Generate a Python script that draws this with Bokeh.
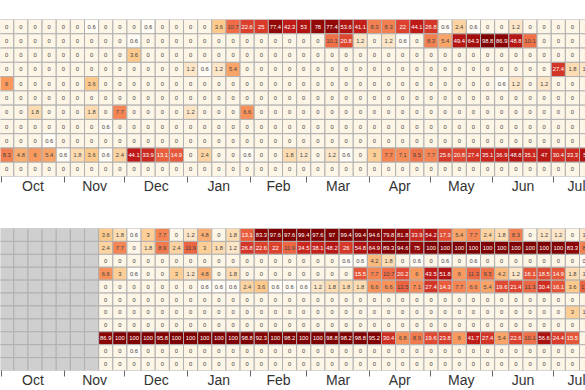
import numpy as np
from bokeh.plotting import figure
from bokeh.models import (ColumnDataSource, LogColorMapper, LinearColorMapper,
                          FixedTicker, DatetimeTickFormatter, Range1d)
from bokeh.layouts import column
from bokeh.transform import transform
from bokeh.core.properties import value
from bokeh.embed import file_html
from bokeh.resources import INLINE

# ---------------- data ----------------
first_week = "2018-09-30"          # start of the first weekly column
month_starts = ["2018-10-01", "2018-11-01", "2018-12-01", "2019-01-01", "2019-02-01",
                "2019-03-01", "2019-04-01", "2019-05-01", "2019-06-01", "2019-07-01",
                "2019-08-01"]
month_labels = ["Oct", "Nov", "Dec", "Jan", "Feb", "Mar", "Apr", "May", "Jun", "Jul"]

NA = float("nan")

top_rows = [
    [0, 0, 0, 0, 0, 0, 0.6, 0, 0, 0, 0.6, 0, 0, 0, 0, 3.6, 10.7, 22.6, 25, 77.4, 42.3, 53, 78, 77.4,
     53.6, 41.1, 8.3, 8.3, 22, 44.1, 26.8, 0.6, 2.4, 0.6, 0, 0, 1.2, 0, 0, 0, 0, 0],
    [0, 0, 0, 0, 0, 0, 0, 0, 0, 0.6, 0, 0, 0, 0, 0, 0, 0, 0, 0, 0, 0, 0, 0, 10.1, 20.8, 1.2, 0,
     1.2, 0.6, 0, 8.3, 5.4, 49.4, 64.3, 98.8, 86.9, 48.8, 10.1, 0, 0, 0, 0],
    [0, 0, 0, 0, 0, 0, 0, 0, 0, 3.6, 0, 0, 0, 0, 0, 0, 0, 0, 0, 0, 0, 0, 0, 0, 0, 0, 0, 0, 0, 0,
     0, 0, 0, 0, 0, 0, 0, 0, 0, 0, 0, 0],
    [0, 0, 0, 0, 0, 0, 0, 0, 0, 0, 0, 0, 0, 1.2, 0.6, 1.2, 5.4, 0, 0, 0, 0, 0, 0, 0, 0, 0, 0, 0,
     0, 0, 0, 0, 0, 0, 0, 0, 0, 0, 0, 27.4, 1.8, 1.2],
    [6, 0, 0, 0, 0, 0, 3.6, 0, 0, 0, 0, 0, 0, 0, 0, 0, 0, 0, 0, 0, 0, 0, 0, 0, 0, 0, 0, 0, 0, 0,
     0, 0, 0, 0, 0, 0.6, 1.2, 0, 1.2, 0, 0, 0],
    [0] * 42,
    [0, 0, 1.8, 0, 0, 0, 1.8, 0, 7.7, 0, 0, 0, 0, 1.2, 0, 0, 0, 6.6, 0, 0, 0, 0, 0, 0, 0, 0, 0, 0,
     0, 0, 0, 0, 0, 0, 0, 0, 0, 0, 0, 0, 0, 0],
    [0, 0, 0, 0, 0, 0, 0, 0.6, 0, 0, 0, 0, 0, 0, 0, 0, 0, 0, 0, 0, 0, 0, 0, 0, 0, 0, 0, 0, 0, 0,
     0, 0, 0, 0, 0, 0, 0, 0, 0, 0, 0, 0],
    [0, 0, 0, 0.6, 0, 0, 0, 0, 0, 0, 0, 0, 0, 0, 0, 0, 0, 0, 0, 0, 0, 0, 0, 0, 0, 0, 0, 0, 0, 0,
     0, 0, 0, 0, 0, 0, 0, 0, 0, 0, 0, 0],
    [8.3, 4.8, 6, 5.4, 0.6, 1.8, 3.6, 0.6, 2.4, 44.1, 33.9, 13.1, 14.9, 0, 2.4, 0, 0, 0.6, 0, 0,
     1.8, 1.2, 0, 1.2, 0.6, 0, 3, 7.7, 7.1, 9.5, 7.7, 25.6, 20.8, 27.4, 35.1, 36.9, 48.8, 35.1,
     47, 30.4, 33.3, 51],
    [0] * 42,
]

gap = [NA] * 7   # first seven weeks missing in the lower panel
bottom_rows = [
    gap + [3.6, 1.8, 0.6, 3, 7.7, 0, 1.2, 4.8, 0, 1.8, 13.1, 83.3, 97.6, 97.6, 99.4, 97.6, 97,
           99.4, 99.4, 94.6, 79.8, 81.8, 33.9, 54.2, 17.3, 5.4, 7.7, 2.4, 1.8, 8.3, 0, 1.2, 1.2,
           0, 1.2],
    gap + [2.4, 7.7, 0, 1.8, 8.9, 2.4, 11.9, 3, 1.8, 1.2, 26.8, 22.6, 22, 11.9, 34.5, 38.1, 48.2,
           26, 54.8, 64.9, 89.3, 94.6, 75, 100, 100, 100, 100, 100, 100, 100, 100, 100, 100,
           83.3, 8.3],
    gap + [0, 0, 0, 0, 0, 0, 0, 0, 0, 0, 0, 0, 0, 0, 0, 0, 0, 0.6, 0.6, 4.2, 1.8, 0, 0.6, 0, 0.6,
           0, 0.6, 0, 0, 0, 0, 0, 0, 0, 0.6],
    gap + [6.6, 3, 0.6, 0, 0, 3, 1.2, 4.8, 0, 1.8, 0, 0, 0, 0, 0, 0, 0, 0, 15.5, 7.7, 10.7, 20.2,
           6, 43.5, 51.8, 6, 11.3, 9.5, 4.2, 1.2, 16.1, 18.5, 14.9, 1.8, 1.2],
    gap + [0, 0, 0, 0, 0, 0, 0, 0.6, 0.6, 0.6, 2.4, 3.6, 0.6, 0.6, 0.6, 1.2, 1.8, 1.8, 1.8, 6.6,
           6.6, 12.5, 7.1, 27.4, 14.3, 7.7, 6.6, 5.4, 19.6, 21.4, 11.3, 30.4, 16.1, 3.6, 12.5],
    gap + [0] * 35,
    gap + [0] * 33 + [3, 1.2],
    gap + [0] * 35,
    gap + [86.9, 100, 100, 100, 95.8, 100, 100, 100, 100, 100, 98.8, 92.3, 100, 98.2, 100, 100,
           98.8, 98.2, 98.8, 95.2, 30.4, 6.8, 8.9, 19.6, 23.8, 6, 41.7, 27.4, 5.4, 22.6, 10.1,
           56.6, 24.4, 15.5, 0],
    gap + [0, 0, 0.6] + [0] * 32,
    gap + [0] * 35,
]

# ---------------- styling helpers ----------------
DAY_MS = 86400000.0
EPOCH = np.datetime64("1970-01-01T00:00:00")


def to_ms(d):
    return float((np.datetime64(d) - EPOCH) / np.timedelta64(1, "ms"))


anchors = [(0.0, "#fffbf5"), (0.135, "#fde6c6"), (0.35, "#fdca8c"), (0.45, "#f9995e"),
           (0.563, "#ef6c46"), (0.71, "#dc412d"), (0.84, "#bf1a17"), (1.0, "#7f0000")]


def hex2rgb(h):
    return [int(h[i:i + 2], 16) for i in (1, 3, 5)]


palette = []
for i in range(256):
    t = i / 255
    for (t0, c0), (t1, c1) in zip(anchors[:-1], anchors[1:]):
        if t0 <= t <= t1:
            f = (t - t0) / (t1 - t0)
            a, b = hex2rgb(c0), hex2rgb(c1)
            palette.append("#%02x%02x%02x" % tuple(round(a[k] + (b[k] - a[k]) * f) for k in range(3)))
            break

fill_mapper = LogColorMapper(palette=palette, low=0.6, high=100,
                             low_color="#fdf5e6", nan_color="#cfcfcf")
text_mapper = LinearColorMapper(palette=["#444444", "#ffffff"], low=0, high=26,
                                high_color="#ffffff")

week0 = to_ms(first_week)
week_ms = 7 * DAY_MS
starts_ms = [to_ms(d) for d in month_starts]
mid_ms = [(a + b) / 2 for a, b in zip(starts_ms[:-1], starts_ms[1:])]

px_per_day = 2.0204
left_day = (0 + 0.84) / px_per_day
right_day = (585 + 0.84) / px_per_day


def make_panel(rows, height, border_top, border_bottom):
    xs, ys, vs = [], [], []
    tx, ty, tv, tt = [], [], [], []
    for r, row in enumerate(rows):
        for c, v in enumerate(row):
            x = week0 + c * week_ms + week_ms / 2
            xs.append(x); ys.append(r + 0.5); vs.append(v)
            if not np.isnan(v):
                tx.append(x); ty.append(r + 0.5); tv.append(v); tt.append(f"{v:g}")
    cells = ColumnDataSource(dict(x=np.array(xs), y=np.array(ys), v=np.array(vs, dtype=float)))
    labels = ColumnDataSource(dict(x=tx, y=ty, v=tv, t=tt))

    p = figure(width=585, height=height, x_axis_type="datetime", output_backend="svg",
               toolbar_location=None, y_axis_location=None,
               x_range=Range1d(week0 + left_day * DAY_MS, week0 + right_day * DAY_MS),
               y_range=Range1d(len(rows), 0),
               min_border_left=0, min_border_right=0,
               min_border_top=border_top, min_border_bottom=border_bottom)
    p.rect(x="x", y="y", width=week_ms, height=1, source=cells,
           fill_color=transform("v", fill_mapper), line_color="#b0b0b0", line_width=1)
    p.text(x="x", y="y", text="t", source=labels, text_align="center",
           text_baseline="middle", text_font_size="5.8px", text_font=value("Liberation Sans"),
           text_color=transform("v", text_mapper))

    p.grid.visible = False
    p.outline_line_color = None
    ax = p.xaxis[0]
    ax.ticker = FixedTicker(ticks=mid_ms, minor_ticks=starts_ms)
    ax.formatter = DatetimeTickFormatter(
        microseconds="%b", milliseconds="%b", seconds="%b", minsec="%b", minutes="%b",
        hourmin="%b", hours="%b", days="%b", months="%b", years="%b")
    ax.axis_line_color = None
    ax.major_tick_line_color = None
    ax.major_tick_out = 0
    ax.major_tick_in = 0
    ax.minor_tick_line_color = "#666666"
    ax.minor_tick_out = 6
    ax.minor_tick_in = 0
    ax.major_label_standoff = -5
    ax.major_label_text_font = "Liberation Sans"
    ax.major_label_text_font_size = "14px"
    ax.major_label_text_color = "#333333"
    return p


top = make_panel(top_rows, 205, 19, 29)
bottom = make_panel(bottom_rows, 185, 23, 20)

layout = column(top, bottom)
open("out.html", "w").write(file_html(layout, INLINE))
